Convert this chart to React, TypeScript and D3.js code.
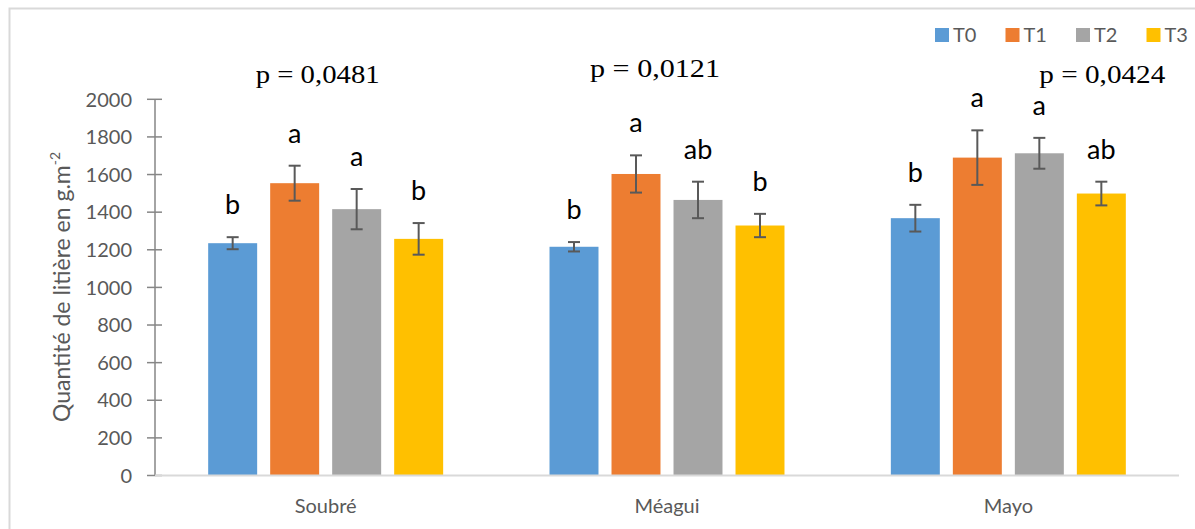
import React from "react";
import * as d3 from "d3";

const sites = ["Soubré", "Méagui", "Mayo"];
const treatments = ["T0", "T1", "T2", "T3"];
const colors = ["#5b9bd5", "#ed7d31", "#a5a5a5", "#ffc000"];
// mean values per site, per treatment
const T0 = [1235, 1216, 1368];
const T1 = [1554, 1603, 1690];
const T2 = [1416, 1465, 1713];
const T3 = [1258, 1329, 1499];
// standard errors
const E0 = [32, 25, 71];
const E1 = [93, 99, 145];
const E2 = [107, 97, 82];
const E3 = [84, 62, 63];
// letters
const L0 = ["b", "b", "b"];
const L1 = ["a", "a", "a"];
const L2 = ["a", "ab", "a"];
const L3 = ["b", "b", "ab"];
const pValues = ["p = 0,0481", "p = 0,0121", "p = 0,0424"];
const yTicks = [0, 200, 400, 600, 800, 1000, 1200, 1400, 1600, 1800, 2000];

const means = [T0, T1, T2, T3];
const errs = [E0, E1, E2, E3];
const letters = [L0, L1, L2, L3];

// p-value annotation placement (x center offset, baseline, width)
const pLayout = [
  { dx: -8, y: 83, w: 124 },
  { dx: -12, y: 77, w: 130 },
  { dx: 94, y: 83, w: 126 },
];

const W = 1195;
const H = 529;
const FONT = "Lato, 'Open Sans', sans-serif";
const GREY = "#595959";

export default function App() {
  const y = d3.scaleLinear().domain([0, 2000]).range([475.5, 99.3]);
  const x0 = d3.scaleBand<string>().domain(sites).range([155, 1179]).padding(0);
  const x1 = d3
    .scaleBand<string>()
    .domain(treatments)
    .range([-124, 124])
    .paddingInner(0.21)
    .paddingOuter(0.105);
  const bw = x1.bandwidth();

  return (
    <svg
      width={W}
      height={H}
      style={{ position: "absolute", left: 0, top: 0, background: "#fff" }}
      fontFamily={FONT}
    >
      {/* chart border */}
      <rect x={9.5} y={8.5} width={W} height={H} fill="none" stroke="#d9d9d9" strokeWidth={2} />

      {/* y axis */}
      <line x1={155} x2={155} y1={y(2000)} y2={y(0)} stroke="#868686" strokeWidth={1.5} />
      {yTicks.map((t) => (
        <g key={t}>
          <line x1={147} x2={162} y1={y(t)} y2={y(t)} stroke="#868686" strokeWidth={1.5} />
          <text
            x={132}
            y={y(t)}
            dy="0.36em"
            textAnchor="end"
            fontSize={20}
            fill={GREY}
          >
            {t}
          </text>
        </g>
      ))}

      {/* y label */}
      <text
        transform={`translate(70, ${287}) rotate(-90)`}
        textAnchor="middle"
        fontSize={23}
        fill={GREY}
      >
        Quantité de litière en g.m<tspan fontSize={14} dy={-10}>-2</tspan>
      </text>

      {/* bars */}
      {sites.map((s, si) => {
        const cx = (x0(s) as number) + x0.bandwidth() / 2;
        return (
          <g key={s}>
            {treatments.map((t, ti) => {
              const v = means[ti][si];
              const e = errs[ti][si];
              const bx = cx + (x1(t) as number);
              const mx = bx + bw / 2;
              return (
                <g key={t}>
                  <rect x={bx} y={y(v)} width={bw} height={y(0) - y(v)} fill={colors[ti]} />
                  <line x1={mx} x2={mx} y1={y(v + e)} y2={y(v - e)} stroke={GREY} strokeWidth={2} />
                  <line x1={mx - 6} x2={mx + 6} y1={y(v + e)} y2={y(v + e)} stroke={GREY} strokeWidth={2} />
                  <line x1={mx - 6} x2={mx + 6} y1={y(v - e)} y2={y(v - e)} stroke={GREY} strokeWidth={2} />
                  <text
                    x={mx}
                    y={y(v + e) - 23}
                    textAnchor="middle"
                    fontSize={27}
                    fill="#000"
                  >
                    {letters[ti][si]}
                  </text>
                </g>
              );
            })}
            <text
              x={cx + pLayout[si].dx}
              y={pLayout[si].y}
              textAnchor="middle"
              fontFamily="'Liberation Serif', 'Times New Roman', serif"
              fontSize={25}
              fill="#000"
              textLength={pLayout[si].w}
              lengthAdjust="spacingAndGlyphs"
            >
              {pValues[si]}
            </text>
            <text x={cx} y={513} textAnchor="middle" fontSize={20} fill={GREY}>
              {s}
            </text>
          </g>
        );
      })}

      {/* x axis */}
      <line x1={155} x2={1179} y1={y(0)} y2={y(0)} stroke="#d9d9d9" strokeWidth={2} />

      {/* legend */}
      {treatments.map((t, i) => (
        <g key={t} transform={`translate(${935 + i * 70.5}, 28)`}>
          <rect x={0} y={0} width={14} height={14} fill={colors[i]} />
          <text x={18} y={14} fontSize={20} fill={GREY}>
            {t}
          </text>
        </g>
      ))}
    </svg>
  );
}
